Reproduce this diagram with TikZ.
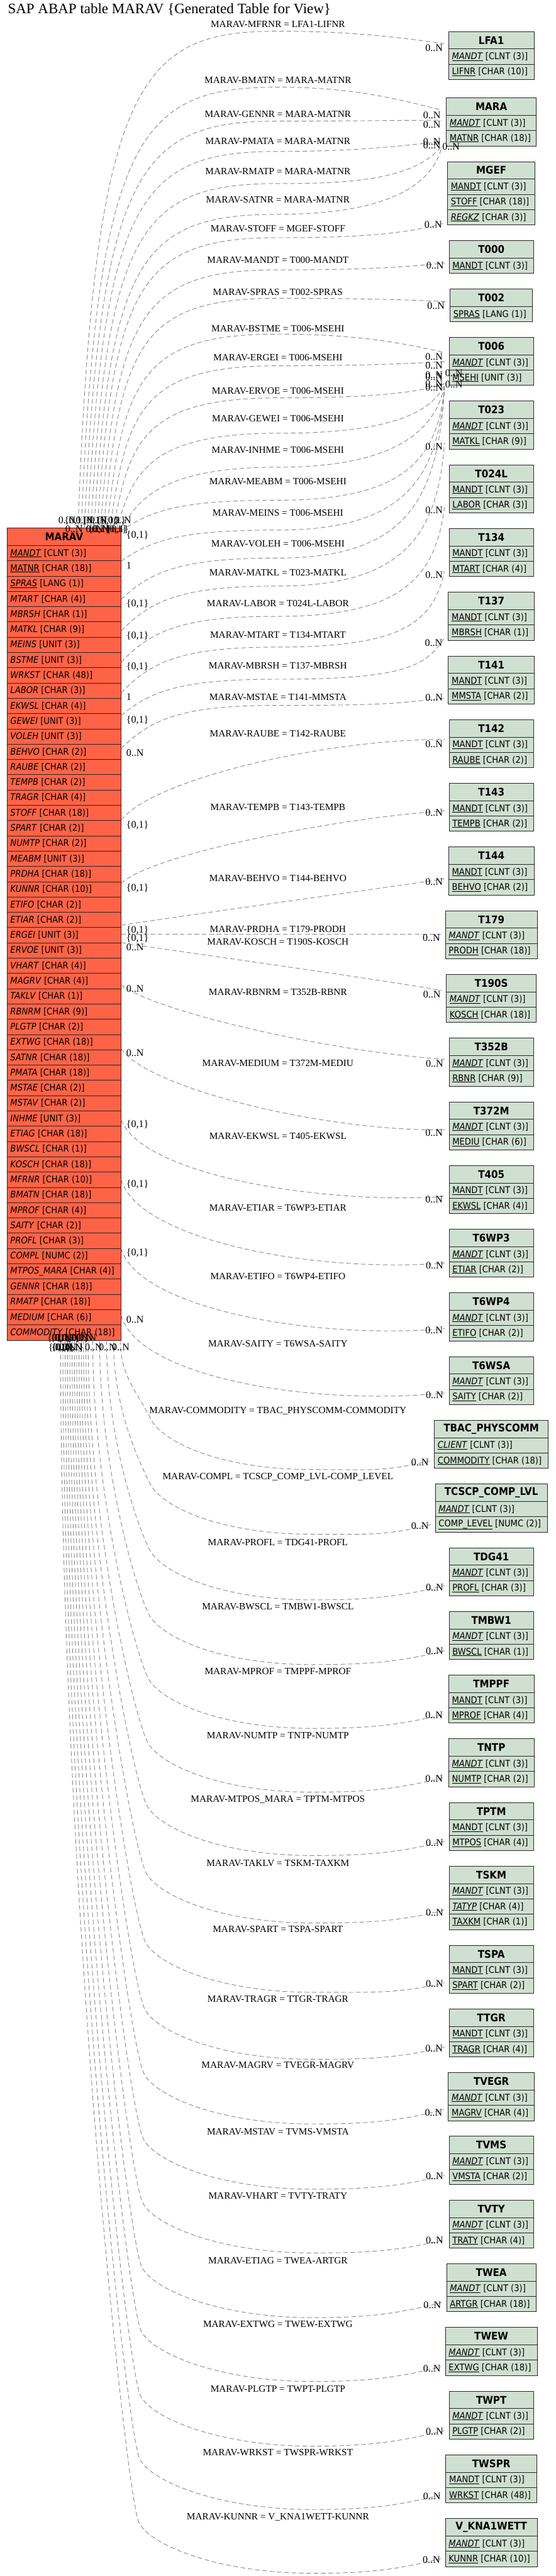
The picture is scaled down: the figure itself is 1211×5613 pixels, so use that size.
\documentclass[tikz,border=0pt]{standalone}
\usepackage{fontspec}
\setmainfont{Liberation Serif}
\newfontfamily\tabfont{DejaVu Sans}[FakeStretch=0.9]
\usetikzlibrary{positioning,calc}

\definecolor{viewred}{HTML}{FF6347}
\definecolor{tabgreen}{HTML}{D0E0D0}

% field styles: key, italic key, plain italic
\newcommand{\kf}[1]{\underline{#1}}
\newcommand{\ikf}[1]{\underline{\textit{#1}}}
\newcommand{\nf}[1]{\textit{#1}}
\newcommand{\zn}{0..N}
\newcommand{\zo}{\{0,1\}}

\tikzset{
  tabbox/.style={draw=none, outer sep=0pt, inner sep=0pt},
  tabcell/.style={draw=black!85, line width=1.3pt, outer sep=0pt, inner sep=0pt},
  tabhead/.style={tabcell, minimum height=38pt, font=\fontsize{23}{26}\selectfont\tabfont\bfseries},
  tabrow/.style={tabcell, minimum height=33.3pt},
  fieldtxt/.style={inner sep=0pt, font=\fontsize{20}{24}\selectfont\tabfont},
  rel/.style={draw=black!45, line width=1.3pt, dash pattern=on 10pt off 6pt},
  lbl/.style={inner sep=0pt, anchor=base, font=\fontsize{21}{24}\selectfont},
  card/.style={inner sep=0pt, font=\fontsize{22}{26}\selectfont},
}

% [fill] name, placement, width, number of fields, header, fields
\newcommand{\saptable}[7][tabgreen]{%
  \node[tabbox, minimum width=#4pt, minimum height={38+33.3*#5}, #3] (#2) {};
  \node[tabhead, fill=#1, minimum width=#4pt, anchor=north west] (#2-h) at (#2.north west) {#6};
  \foreach \fld [count=\i] in {#7} {
    \node[tabrow, fill=#1, minimum width=#4pt, anchor=north west] (#2-\i) at ([yshift={-38-33.3*(\i-1)}]#2.north west) {};
    \node[fieldtxt, anchor=west] (#2-\i-t) at ([xshift=7pt]#2-\i.west) {\fld};
  }
}

\begin{document}
\begin{tikzpicture}[x=1pt, y=-1pt]
\path[use as bounding box, fill=white] (0,0) rectangle (1211,5613);
\node[anchor=base west, inner sep=0pt, font=\fontsize{31.5}{36}\selectfont] (title) at (17,29) {SAP ABAP table MARAV \{Generated Table for View\}};

% the view table
\saptable[viewred]{MARAV}{at={(15.4,1150.6)}, anchor=north west}{248.6}{52}{MARAV}{
  \ikf{MANDT} [CLNT (3)], \kf{MATNR} [CHAR (18)], \ikf{SPRAS} [LANG (1)], \nf{MTART} [CHAR (4)],
  \nf{MBRSH} [CHAR (1)], \nf{MATKL} [CHAR (9)], \nf{MEINS} [UNIT (3)], \nf{BSTME} [UNIT (3)],
  \nf{WRKST} [CHAR (48)], \nf{LABOR} [CHAR (3)], \nf{EKWSL} [CHAR (4)], \nf{GEWEI} [UNIT (3)],
  \nf{VOLEH} [UNIT (3)], \nf{BEHVO} [CHAR (2)], \nf{RAUBE} [CHAR (2)], \nf{TEMPB} [CHAR (2)],
  \nf{TRAGR} [CHAR (4)], \nf{STOFF} [CHAR (18)], \nf{SPART} [CHAR (2)], \nf{NUMTP} [CHAR (2)],
  \nf{MEABM} [UNIT (3)], \nf{PRDHA} [CHAR (18)], \nf{KUNNR} [CHAR (10)], \nf{ETIFO} [CHAR (2)],
  \nf{ETIAR} [CHAR (2)], \nf{ERGEI} [UNIT (3)], \nf{ERVOE} [UNIT (3)], \nf{VHART} [CHAR (4)],
  \nf{MAGRV} [CHAR (4)], \nf{TAKLV} [CHAR (1)], \nf{RBNRM} [CHAR (9)], \nf{PLGTP} [CHAR (2)],
  \nf{EXTWG} [CHAR (18)], \nf{SATNR} [CHAR (18)], \nf{PMATA} [CHAR (18)], \nf{MSTAE} [CHAR (2)],
  \nf{MSTAV} [CHAR (2)], \nf{INHME} [UNIT (3)], \nf{ETIAG} [CHAR (18)], \nf{BWSCL} [CHAR (1)],
  \nf{KOSCH} [CHAR (18)], \nf{MFRNR} [CHAR (10)], \nf{BMATN} [CHAR (18)], \nf{MPROF} [CHAR (4)],
  \nf{SAITY} [CHAR (2)], \nf{PROFL} [CHAR (3)], \nf{COMPL} [NUMC (2)], \nf{MTPOS\_MARA} [CHAR (4)],
  \nf{GENNR} [CHAR (18)], \nf{RMATP} [CHAR (18)], \nf{MEDIUM} [CHAR (6)], \nf{COMMODITY} [CHAR (18)]}

% check tables, stacked on the right
\saptable{LFA1}{at={(1070.5,68.8)}, anchor=north}{186}{2}{LFA1}{\ikf{MANDT} [CLNT (3)], \kf{LIFNR} [CHAR (10)]}
\saptable{MARA}{below=40pt of LFA1}{196}{2}{MARA}{\ikf{MANDT} [CLNT (3)], \kf{MATNR} [CHAR (18)]}
\saptable{MGEF}{below=34.2pt of MARA}{191}{3}{MGEF}{\kf{MANDT} [CLNT (3)], \kf{STOFF} [CHAR (18)], \ikf{REGKZ} [CHAR (3)]}
\saptable{T000}{below=34.2pt of MGEF}{184}{1}{T000}{\kf{MANDT} [CLNT (3)]}
\saptable{T002}{below=34.2pt of T000}{180}{1}{T002}{\kf{SPRAS} [LANG (1)]}
\saptable{T006}{below=34.2pt of T002}{184}{2}{T006}{\ikf{MANDT} [CLNT (3)], \kf{MSEHI} [UNIT (3)]}
\saptable{T023}{below=34.2pt of T006}{184}{2}{T023}{\ikf{MANDT} [CLNT (3)], \kf{MATKL} [CHAR (9)]}
\saptable{T024L}{below=34.2pt of T023}{184}{2}{T024L}{\kf{MANDT} [CLNT (3)], \kf{LABOR} [CHAR (3)]}
\saptable{T134}{below=34.2pt of T024L}{184}{2}{T134}{\kf{MANDT} [CLNT (3)], \kf{MTART} [CHAR (4)]}
\saptable{T137}{below=34.2pt of T134}{187}{2}{T137}{\kf{MANDT} [CLNT (3)], \kf{MBRSH} [CHAR (1)]}
\saptable{T141}{below=34.2pt of T137}{187}{2}{T141}{\kf{MANDT} [CLNT (3)], \kf{MMSTA} [CHAR (2)]}
\saptable{T142}{below=34.2pt of T141}{184}{2}{T142}{\kf{MANDT} [CLNT (3)], \kf{RAUBE} [CHAR (2)]}
\saptable{T143}{below=34.2pt of T142}{184}{2}{T143}{\kf{MANDT} [CLNT (3)], \kf{TEMPB} [CHAR (2)]}
\saptable{T144}{below=34.2pt of T143}{186}{2}{T144}{\kf{MANDT} [CLNT (3)], \kf{BEHVO} [CHAR (2)]}
\saptable{T179}{below=34.2pt of T144}{200}{2}{T179}{\ikf{MANDT} [CLNT (3)], \kf{PRODH} [CHAR (18)]}
\saptable{T190S}{below=34.2pt of T179}{196}{2}{T190S}{\ikf{MANDT} [CLNT (3)], \kf{KOSCH} [CHAR (18)]}
\saptable{T352B}{below=34.2pt of T190S}{184}{2}{T352B}{\ikf{MANDT} [CLNT (3)], \kf{RBNR} [CHAR (9)]}
\saptable{T372M}{below=34.2pt of T352B}{184}{2}{T372M}{\ikf{MANDT} [CLNT (3)], \kf{MEDIU} [CHAR (6)]}
\saptable{T405}{below=34.2pt of T372M}{184}{2}{T405}{\kf{MANDT} [CLNT (3)], \kf{EKWSL} [CHAR (4)]}
\saptable{T6WP3}{below=34.2pt of T405}{184}{2}{T6WP3}{\ikf{MANDT} [CLNT (3)], \kf{ETIAR} [CHAR (2)]}
\saptable{T6WP4}{below=34.2pt of T6WP3}{184}{2}{T6WP4}{\ikf{MANDT} [CLNT (3)], \kf{ETIFO} [CHAR (2)]}
\saptable{T6WSA}{below=34.2pt of T6WP4}{184}{2}{T6WSA}{\ikf{MANDT} [CLNT (3)], \kf{SAITY} [CHAR (2)]}
\saptable{TBAC}{below=34.2pt of T6WSA}{248}{2}{TBAC\_PHYSCOMM}{\ikf{CLIENT} [CLNT (3)], \kf{COMMODITY} [CHAR (18)]}
\saptable{TCSCP}{below=34.2pt of TBAC}{244}{2}{TCSCP\_COMP\_LVL}{\ikf{MANDT} [CLNT (3)], \kf{COMP\_LEVEL} [NUMC (2)]}
\saptable{TDG41}{below=34.2pt of TCSCP}{184}{2}{TDG41}{\ikf{MANDT} [CLNT (3)], \kf{PROFL} [CHAR (3)]}
\saptable{TMBW1}{below=34.2pt of TDG41}{184}{2}{TMBW1}{\ikf{MANDT} [CLNT (3)], \kf{BWSCL} [CHAR (1)]}
\saptable{TMPPF}{below=34.2pt of TMBW1}{186}{2}{TMPPF}{\kf{MANDT} [CLNT (3)], \kf{MPROF} [CHAR (4)]}
\saptable{TNTP}{below=34.2pt of TMPPF}{186}{2}{TNTP}{\ikf{MANDT} [CLNT (3)], \kf{NUMTP} [CHAR (2)]}
\saptable{TPTM}{below=34.2pt of TNTP}{184}{2}{TPTM}{\kf{MANDT} [CLNT (3)], \kf{MTPOS} [CHAR (4)]}
\saptable{TSKM}{below=34.2pt of TPTM}{184}{3}{TSKM}{\ikf{MANDT} [CLNT (3)], \ikf{TATYP} [CHAR (4)], \kf{TAXKM} [CHAR (1)]}
\saptable{TSPA}{below=34.2pt of TSKM}{184}{2}{TSPA}{\kf{MANDT} [CLNT (3)], \kf{SPART} [CHAR (2)]}
\saptable{TTGR}{below=34.2pt of TSPA}{184}{2}{TTGR}{\kf{MANDT} [CLNT (3)], \kf{TRAGR} [CHAR (4)]}
\saptable{TVEGR}{below=34.2pt of TTGR}{187}{2}{TVEGR}{\ikf{MANDT} [CLNT (3)], \kf{MAGRV} [CHAR (4)]}
\saptable{TVMS}{below=34.2pt of TVEGR}{184}{2}{TVMS}{\ikf{MANDT} [CLNT (3)], \kf{VMSTA} [CHAR (2)]}
\saptable{TVTY}{below=34.2pt of TVMS}{184}{2}{TVTY}{\ikf{MANDT} [CLNT (3)], \kf{TRATY} [CHAR (4)]}
\saptable{TWEA}{below=34.2pt of TVTY}{195}{2}{TWEA}{\ikf{MANDT} [CLNT (3)], \kf{ARTGR} [CHAR (18)]}
\saptable{TWEW}{below=34.2pt of TWEA}{200}{2}{TWEW}{\ikf{MANDT} [CLNT (3)], \kf{EXTWG} [CHAR (18)]}
\saptable{TWPT}{below=34.2pt of TWEW}{184}{2}{TWPT}{\ikf{MANDT} [CLNT (3)], \kf{PLGTP} [CHAR (2)]}
\saptable{TWSPR}{below=34.2pt of TWPT}{198}{2}{TWSPR}{\kf{MANDT} [CLNT (3)], \kf{WRKST} [CHAR (48)]}
\saptable{VKNA1WETT}{below=34.2pt of TWSPR}{200}{2}{V\_KNA1WETT}{\ikf{MANDT} [CLNT (3)], \kf{KUNNR} [CHAR (10)]}

% relations leaving MARAV at the top
\foreach \xs/\ym/\tg/\ty/\cx/\cy in {
    170/68/LFA1/95/-110/-15, 177/190/MARA/240/-110/-28, 184/264/MARA/262/-110/0,
    191/330/MARA/308/-100/12, 198/400/MARA/318/-60/75, 205/467/MARA/320/-30/120,
    212/518/MGEF/487/-90/25, 219/588/T000/573/-110/12, 226/650/T002/657/-110/-5,
    233/728/T006/768/-110/-25, 240/797/T006/788/-110/6, 247/867/T006/836/-70/25,
    254/944/T006/838/-40/90, 261/1018/T006/840/-30/150}
  \draw[rel] (\xs,0 |- MARAV.north) .. controls ({\xs+35},{\ym+100}) and (309,\ym) .. (605,\ym)
    .. controls (760,\ym) and +(\cx,\cy) .. ($(0,\ty -| \tg.west)+(-10,0)$);

% relations leaving MARAV at the right, going up
\foreach \ys/\ym/\tg/\ty/\cx/\cy in {
    1157/1090/T006/842/-15/160, 1223/1155/T006/844/-15/200, 1306/1216/T006/846/-15/250,
    1375/1277/T023/965/-15/200, 1443/1343/T024L/1105/-20/150, 1510/1410/T134/1245/-25/110,
    1559/1480/T137/1392/-40/60, 1631/1537/T141/1522/-100/8}
  \draw[rel] (MARAV.east |- 0,\ys) .. controls (330,{\ys-0.7*(\ys-\ym)}) and (400,\ym) .. (605,\ym)
    .. controls (880,\ym) and +(\cx,\cy) .. ($(0,\ty -| \tg.west)+(-10,0)$);

% relations leaving MARAV at the right, straight across or down
\foreach \ys/\ax/\ay/\bx/\by/\tg/\ty in {
    1787/330/1700/700/1611/T142/1611, 1925/330/1860/750/1780/T143/1767,
    2016/400/1995/800/1940/T144/1915, 2035/400/2035/800/2035/T179/2035,
    2054/400/2075/800/2130/T190S/2158, 2146/330/2200/700/2290/T352B/2308,
    2285/320/2370/700/2465/T372M/2462, 2440/310/2560/700/2625/T405/2607,
    2570/300/2700/680/2775/T6WP3/2752, 2720/300/2850/680/2920/T6WP4/2895,
    2866/300/3000/680/3065/T6WSA/3035}
  \draw[rel] (MARAV.east |- 0,\ys) .. controls (\ax,\ay) and (\bx,\by) .. ($(0,\ty -| \tg.west)+(-10,0)$);

% relations leaving MARAV at the bottom
\foreach \xs/\vy/\tg/\ty [count=\k] in {
    262/3202/TBAC/3183, 247/3343/TCSCP/3322, 232/3486/TDG41/3455, 217/3627/TMBW1/3597,
    202/3766/TMPPF/3735, 192/3905/TNTP/3873, 187/4043/TPTM/4012, 182/4190/TSKM/4162,
    177/4341/TSPA/4320, 172/4487/TTGR/4460, 167/4628/TVEGR/4597, 162/4770/TVMS/4740,
    157/4909/TVTY/4880, 152/5050/TWEA/5017, 147/5189/TWEW/5157, 142/5330/TWPT/5296,
    137/5468/TWSPR/5436, 132/5607/VKNA1WETT/5575}
  \draw[rel] (\xs,0 |- MARAV.south)
    .. controls (\xs,{2921+0.45*(\vy-110-2921)}) and ({300-1.5*\k},{\vy-170}) .. ({330-1.5*\k},{\vy-110})
    .. controls ({355-1.5*\k},{\vy-60}) and (480,\vy) .. (680,\vy)
    .. controls (800,\vy) and +(-100,25) .. ($(0,\ty -| \tg.west)+(-10,0)$);

% relation texts
\foreach \y/\txt [count=\n] in {
    53/MARAV-MFRNR = LFA1-LIFNR, 175/MARAV-BMATN = MARA-MATNR, 249/MARAV-GENNR = MARA-MATNR,
    307/MARAV-PMATA = MARA-MATNR, 373/MARAV-RMATP = MARA-MATNR, 435/MARAV-SATNR = MARA-MATNR,
    498/MARAV-STOFF = MGEF-STOFF, 567/MARAV-MANDT = T000-MANDT, 636/MARAV-SPRAS = T002-SPRAS,
    716/MARAV-BSTME = T006-MSEHI, 779/MARAV-ERGEI = T006-MSEHI, 851/MARAV-ERVOE = T006-MSEHI,
    912/MARAV-GEWEI = T006-MSEHI, 981/MARAV-INHME = T006-MSEHI, 1049/MARAV-MEABM = T006-MSEHI,
    1117/MARAV-MEINS = T006-MSEHI, 1185/MARAV-VOLEH = T006-MSEHI, 1247/MARAV-MATKL = T023-MATKL,
    1314.6/MARAV-LABOR = T024L-LABOR, 1383/MARAV-MTART = T134-MTART, 1451/MARAV-MBRSH = T137-MBRSH,
    1519/MARAV-MSTAE = T141-MMSTA, 1598/MARAV-RAUBE = T142-RAUBE, 1759/MARAV-TEMPB = T143-TEMPB,
    1913/MARAV-BEHVO = T144-BEHVO, 2024/MARAV-PRDHA = T179-PRODH, 2052/MARAV-KOSCH = T190S-KOSCH,
    2161/MARAV-RBNRM = T352B-RBNR, 2316/MARAV-MEDIUM = T372M-MEDIU, 2476/MARAV-EKWSL = T405-EKWSL,
    2631/MARAV-ETIAR = T6WP3-ETIAR, 2781/MARAV-ETIFO = T6WP4-ETIFO, 2928/MARAV-SAITY = T6WSA-SAITY,
    3073/MARAV-COMMODITY = TBAC\_PHYSCOMM-COMMODITY, 3216.7/MARAV-COMPL = TCSCP\_COMP\_LVL-COMP\_LEVEL,
    3360/MARAV-PROFL = TDG41-PROFL, 3501/MARAV-BWSCL = TMBW1-BWSCL, 3641/MARAV-MPROF = TMPPF-MPROF,
    3781/MARAV-NUMTP = TNTP-NUMTP, 3920/MARAV-MTPOS\_MARA = TPTM-MTPOS, 4059/MARAV-TAKLV = TSKM-TAXKM,
    4203/MARAV-SPART = TSPA-SPART, 4356/MARAV-TRAGR = TTGR-TRAGR, 4500/MARAV-MAGRV = TVEGR-MAGRV,
    4644/MARAV-MSTAV = TVMS-VMSTA, 4784/MARAV-VHART = TVTY-TRATY, 4925/MARAV-ETIAG = TWEA-ARTGR,
    5064.6/MARAV-EXTWG = TWEW-EXTWG, 5204.7/MARAV-PLGTP = TWPT-PLGTP, 5344/MARAV-WRKST = TWSPR-WRKST,
    5483/MARAV-KUNNR = V\_KNA1WETT-KUNNR}
  \node[lbl] (rel\n) at (605.5,{\y+7}) {\txt};

% cardinalities at the check tables
\foreach \x/\y [count=\n] in {
    965/104, 960/250.7, 960/271, 960/308, 960/316.7, 1002/320, 963/489, 967/579, 969/666,
    965/777, 965/796.5, 965/817, 1008/813, 965/821, 965/836, 1008/838, 965/844,
    965/973, 965/1112, 965/1252.5, 964/1400, 965/1520, 965/1620.6, 965/1771, 965/1921,
    959/2043, 960/2167, 966/2317, 965/2468, 965/2614, 966/2757, 965/2899, 966/3040,
    934/3186, 934/3325, 966/3459, 966/3597, 965/3737, 965/3876, 966/4015, 966/4168,
    966/4322, 965/4463, 964/4603, 966/4742, 966/4881, 961/5022, 960/5161.5, 966/5298,
    960/5439, 959/5577.6}
  \node[card, anchor=base east] (to\n) at (\x,{\y+7.4}) {0..N};

% cardinalities at MARAV
\foreach \x/\y/\cd [count=\n] in {
    127/1133/\zn, 140/1133/\zo, 165/1133/\zn, 180/1133/\zo, 195/1133/\zn, 210/1133/\zo, 225/1133/\zo, 248/1133/\zn,
    142/1153/\zn, 187/1153/\zn, 192/1153/\zo, 200/1153/\zn, 228/1153/\zo, 232/1153/\zo,
    275/1165.6/\zo, 275/1232/1, 275/1314.6/\zo, 275/1384/\zo, 275/1452/\zo, 275/1519/1,
    275/1567.6/\zo, 275/1640/\zn, 275/1796/\zo, 275/1934/\zo, 275/2025/\zo, 275/2044/\zo,
    275/2063.5/\zn, 275/2155/\zn, 275/2294/\zn, 275/2449/\zo, 275/2579/\zo, 275/2728.6/\zo, 275/2875/\zn,
    103/2915/\zo, 110/2915/\zo, 118/2915/\zn, 125/2915/\zo, 135/2915/\zn, 145/2915/\zo, 155/2915/\zn, 165/2915/\zn, 172/2915/\zn,
    105/2935/\zo, 112/2935/\zo, 120/2935/\zn, 128/2935/\zn, 134/2935/\zo, 141/2935/\zn, 185/2935/\zn, 215/2935/\zn, 244/2935/\zn}
  \node[card, anchor=base west] (from\n) at (\x,{\y+7.4}) {\cd};
\end{tikzpicture}
\end{document}
